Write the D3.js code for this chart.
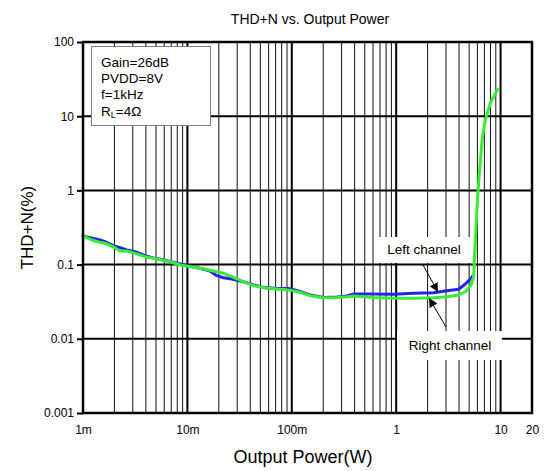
<!DOCTYPE html>
<html>
<head>
<meta charset="utf-8">
<script src="https://cdn.jsdelivr.net/npm/d3@7"></script>
<style>
  html, body { margin: 0; padding: 0; background: #fff; }
  svg { display: block; font-family: "Liberation Sans", Arial, sans-serif; }
</style>
</head>
<body>
<svg id="chart" width="549" height="471"></svg>
<script>
// Output power (W) and THD+N (%) for each channel
const rightPower = [0.001, 0.001167, 0.001303, 0.001455, 0.001625, 0.001952, 0.002263, 0.002624, 0.003152, 0.003929,
  0.00472, 0.005683, 0.00682, 0.008511, 0.01142, 0.01324, 0.01914, 0.02214, 0.02666, 0.03443,
  0.04295, 0.05354, 0.07197, 0.09299, 0.1159, 0.1501, 0.2014, 0.2707, 0.3375, 0.3905,
  0.6072, 0.9441, 1.469, 2.284, 3.069, 3.963, 4.597, 5.214, 5.52, 5.734,
  5.953, 6.262, 6.646, 7.145, 7.98, 9.376];
const rightThd = [0.243, 0.221, 0.208, 0.200, 0.194, 0.174, 0.1526, 0.1526, 0.1419, 0.1278,
  0.1216, 0.1153, 0.1094, 0.0988, 0.0920, 0.0891, 0.0802, 0.0763, 0.0687, 0.0588,
  0.0520, 0.0488, 0.0469, 0.0455, 0.0431, 0.0381, 0.0358, 0.0361, 0.0369, 0.0377,
  0.0361, 0.0351, 0.0351, 0.0358, 0.0369, 0.0389, 0.0431, 0.0531, 0.0687, 0.2145,
  0.603, 1.716, 4.776, 8.889, 15.05, 23.04];

const leftPower = [0.001, 0.001167, 0.001455, 0.001625, 0.001952, 0.002263, 0.002624, 0.003152, 0.003929, 0.00472,
  0.005683, 0.00682, 0.008511, 0.01142, 0.01324, 0.01648, 0.01914, 0.02214, 0.02666, 0.03443,
  0.04295, 0.05354, 0.07197, 0.09299, 0.1159, 0.1501, 0.2014, 0.2707, 0.3375, 0.3905,
  0.6072, 0.9441, 1.469, 2.284, 3.069, 3.963, 4.597, 5.214, 5.33];
const leftThd = [0.243, 0.2303, 0.2145, 0.2035, 0.1798, 0.1690, 0.1573, 0.1492, 0.1318, 0.1227,
  0.1172, 0.1100, 0.1019, 0.0929, 0.0891, 0.0820, 0.0709, 0.0666, 0.0640, 0.0588,
  0.0531, 0.0491, 0.0476, 0.0478, 0.0441, 0.0389, 0.0361, 0.0366, 0.0377, 0.0402,
  0.0402, 0.0398, 0.0410, 0.0418, 0.0445, 0.0465, 0.0548, 0.0654, 0.0687];

const xTickValues = [0.001, 0.01, 0.1, 1, 10, 20];
const xTickLabels = ["1m", "10m", "100m", "1", "10", "20"];
const yTickValues = [0.001, 0.01, 0.1, 1, 10, 100];
const yTickLabels = ["0.001", "0.01", "0.1", "1", "10", "100"];
const conditions = ["Gain=26dB", "PVDD=8V", "f=1kHz"];

const svg = d3.select("#chart");
const pL = 83, pR = 532, pT = 42, pB = 413;

const x = d3.scaleLog().domain([0.001, 20]).range([pL, pR]);
const y = d3.scaleLog().domain([0.001, 100]).range([pB, pT]);

// Minor vertical grid (2..9 within each decade)
const minor = [];
for (let e = -3; e <= 0; e++) {
  for (let m = 2; m <= 9; m++) minor.push(m * Math.pow(10, e));
}
svg.append("g").selectAll("line").data(minor).join("line")
  .attr("x1", d => x(d)).attr("x2", d => x(d))
  .attr("y1", pT).attr("y2", pB)
  .attr("stroke", "#111").attr("stroke-width", 1);

// Major grid
const majorX = [0.01, 0.1, 1, 10];
svg.append("g").selectAll("line").data(majorX).join("line")
  .attr("x1", d => x(d)).attr("x2", d => x(d))
  .attr("y1", pT).attr("y2", pB)
  .attr("stroke", "#000").attr("stroke-width", 2);
const majorY = [0.01, 0.1, 1, 10];
svg.append("g").selectAll("line").data(majorY).join("line")
  .attr("x1", pL).attr("x2", pR)
  .attr("y1", d => y(d)).attr("y2", d => y(d))
  .attr("stroke", "#000").attr("stroke-width", 2);

// Conditions box
const box = svg.append("g");
box.append("rect").attr("x", 91.5).attr("y", 46.5).attr("width", 119).attr("height", 79)
  .attr("fill", "#fff").attr("stroke", "#808080").attr("stroke-width", 1);
conditions.forEach((t, i) => {
  box.append("text").attr("x", 101).attr("y", 67 + i * 16)
    .attr("font-size", 13.5).attr("fill", "#000").text(t);
});
const rl = box.append("text").attr("x", 101).attr("y", 116).attr("font-size", 13.5).attr("fill", "#000");
rl.append("tspan").text("R");
rl.append("tspan").attr("font-size", 9).attr("dy", 2).text("L");
rl.append("tspan").attr("dy", -2).text("=4Ω");

// Channel label boxes
svg.append("rect").attr("x", 375).attr("y", 237).attr("width", 95).attr("height", 26).attr("fill", "#fff");
svg.append("rect").attr("x", 397).attr("y", 331).attr("width", 105).attr("height", 29).attr("fill", "#fff");

// Curves
const line = d3.line().x(d => x(d[0])).y(d => y(d[1]));
svg.append("path").datum(d3.zip(leftPower, leftThd))
  .attr("d", line).attr("fill", "none").attr("stroke", "#2424e6")
  .attr("stroke-width", 3).attr("stroke-linejoin", "round").attr("stroke-linecap", "round");
svg.append("path").datum(d3.zip(rightPower, rightThd))
  .attr("d", line).attr("fill", "none").attr("stroke", "#38ec38")
  .attr("stroke-width", 3).attr("stroke-linejoin", "round").attr("stroke-linecap", "round");

// Channel labels and arrows
svg.append("text").attr("x", 424).attr("y", 254).attr("text-anchor", "middle")
  .attr("font-size", 13.5).text("Left channel");
svg.append("text").attr("x", 450).attr("y", 350).attr("text-anchor", "middle")
  .attr("font-size", 13.5).text("Right channel");

const defs = svg.append("defs");
defs.append("marker").attr("id", "arrow").attr("viewBox", "0 0 10 10")
  .attr("refX", 10).attr("refY", 5).attr("markerWidth", 9).attr("markerHeight", 9)
  .attr("markerUnits", "userSpaceOnUse").attr("orient", "auto")
  .append("path").attr("d", "M0,0 L10,5 L0,10 Z").attr("fill", "#000");
svg.append("line").attr("x1", 423).attr("y1", 265).attr("x2", 438).attr("y2", 292)
  .attr("stroke", "#000").attr("stroke-width", 1).attr("marker-end", "url(#arrow)");
svg.append("line").attr("x1", 446).attr("y1", 327).attr("x2", 429).attr("y2", 298)
  .attr("stroke", "#000").attr("stroke-width", 1).attr("marker-end", "url(#arrow)");

// Frame
svg.append("rect").attr("x", pL).attr("y", pT).attr("width", pR - pL).attr("height", pB - pT)
  .attr("fill", "none").attr("stroke", "#000").attr("stroke-width", 2.5);

// Axes
const yAxis = d3.axisLeft(y).tickValues(yTickValues)
  .tickFormat((d, i) => yTickLabels[i]).tickSize(6).tickPadding(3);
const gy = svg.append("g").attr("transform", `translate(${pL},0)`).call(yAxis);
gy.select(".domain").remove();
gy.selectAll(".tick line").attr("stroke", "#000").attr("stroke-width", 2);
gy.selectAll("text").attr("font-size", 12).attr("fill", "#000")
  .attr("font-family", "Liberation Sans, Arial, sans-serif");

const xAxis = d3.axisBottom(x).tickValues(xTickValues)
  .tickFormat((d, i) => xTickLabels[i]).tickSize(0).tickPadding(12);
const gx = svg.append("g").attr("transform", `translate(0,${pB})`).call(xAxis);
gx.select(".domain").remove();
gx.selectAll("text").attr("font-size", 12).attr("fill", "#000")
  .attr("font-family", "Liberation Sans, Arial, sans-serif");

// Titles
svg.append("text").attr("x", 310).attr("y", 24).attr("text-anchor", "middle")
  .attr("font-size", 14).text("THD+N vs. Output Power");
svg.append("text").attr("x", 303).attr("y", 463).attr("text-anchor", "middle")
  .attr("font-size", 18).text("Output Power(W)");
svg.append("text").attr("transform", `translate(33,${(pT + pB) / 2}) rotate(-90)`)
  .attr("text-anchor", "middle").attr("font-size", 17).text("THD+N(%)");
</script>
</body>
</html>
